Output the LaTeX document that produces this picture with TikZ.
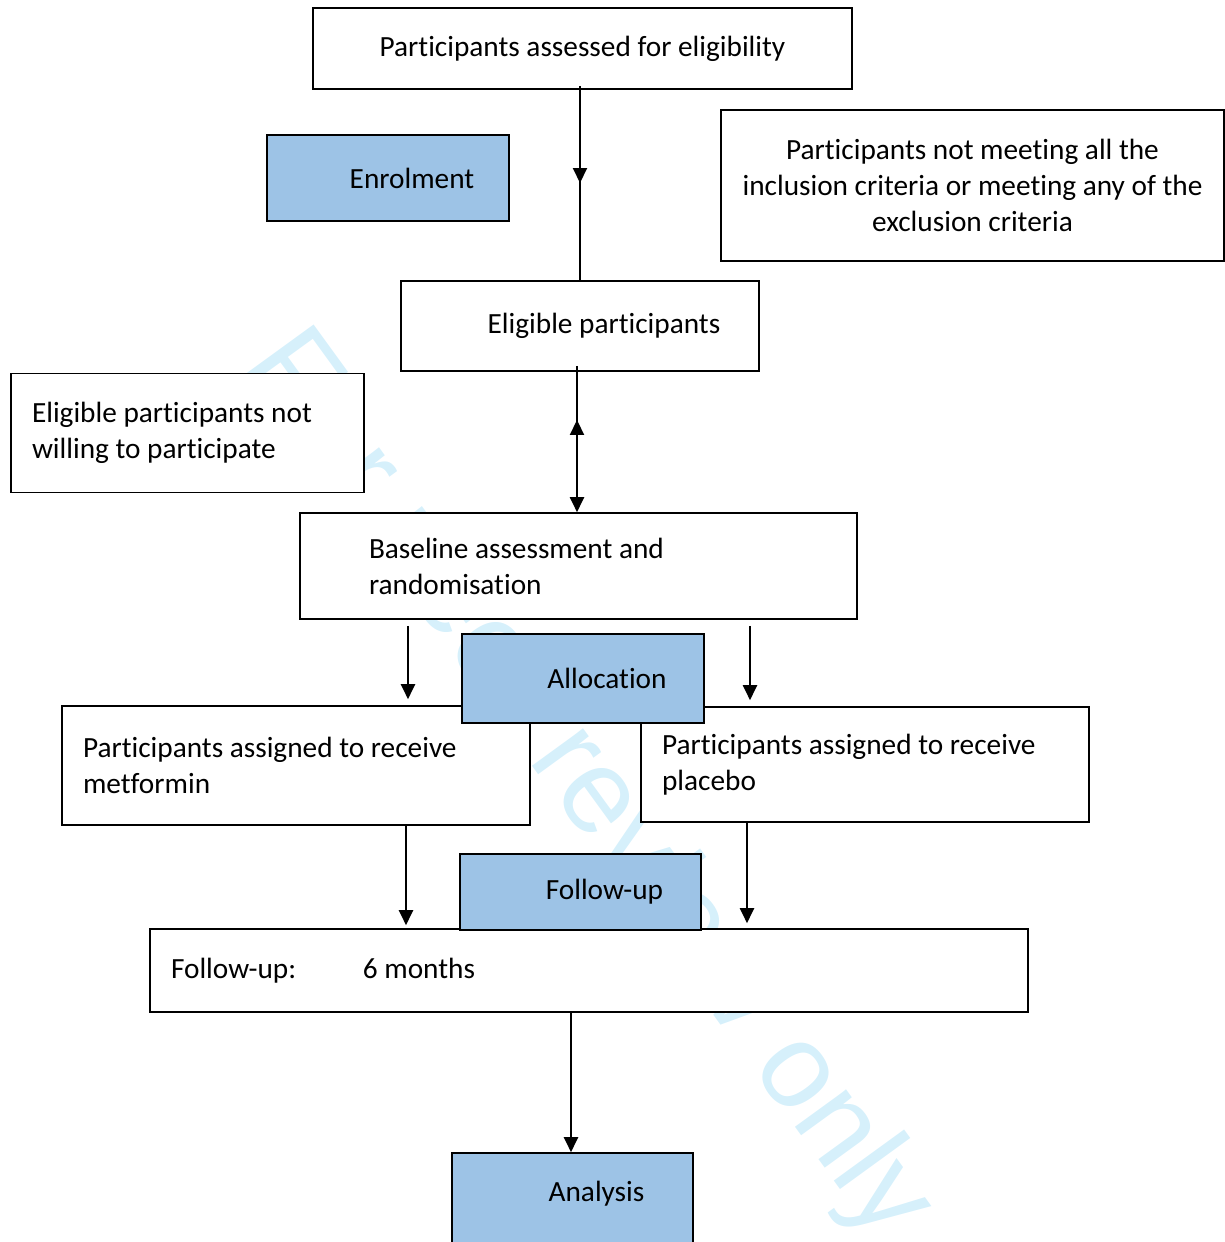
\documentclass[tikz,border=0pt]{standalone}
\usepackage{fontspec}
\setmainfont{Carlito}[Ligatures=NoCommon]
\newfontfamily\markfont{Liberation Sans}
\usepackage{xcolor}
\usetikzlibrary{arrows.meta,decorations.markings}

\definecolor{phaseblue}{RGB}{157,195,230}
\definecolor{wmcyan}{RGB}{214,240,251}

\begin{document}
\begin{tikzpicture}[x=1pt,y=-1pt,
    box/.style={draw=black,line width=1.6pt,fill=white,align=flush center,
                font=\fontsize{29.3}{36}\selectfont,inner sep=0pt},
    lbox/.style={box,align=flush left,inner xsep=21pt},
    indent/.style={execute at begin node={\hspace*{48pt}}},
    phase/.style={box,indent,fill=phaseblue},
    arrow/.style={-{Triangle[width=14pt,length=15pt]},line width=2pt},
    midarrow/.style={line width=2pt,postaction={decorate},
                decoration={markings,mark=at position #1 with {\arrow{Triangle[width=14pt,length=15pt]}}}},
    backarrow/.style={postaction={decorate},
                decoration={markings,mark=at position #1 with {\arrowreversed{Triangle[width=14pt,length=15pt]}}}}]
  \useasboundingbox (0,0) rectangle (1225,1242);
  % watermark
  \node[text=wmcyan,font=\markfont\fontsize{120}{120}\selectfont,rotate=-54,anchor=base] (wm) at (561,805) {For peer review only};
  % enrolment
  \node[box,minimum width=539pt,minimum height=81pt] (assess) at (582.5,48.5) {Participants assessed for eligibility};
  \node[phase,minimum width=242pt,minimum height=86pt] (enrol) at (388,178) {Enrolment};
  \node[box,minimum width=503pt,minimum height=151pt,text width=480pt] (excl) at (972.5,185.5)
       {Participants not meeting all the\\inclusion criteria or meeting any of the\\exclusion criteria};
  \node[box,indent,minimum width=358pt,minimum height=90pt] (elig) at (580,326) {Eligible participants};
  \node[lbox,text width=311pt,minimum height=119pt] (declined) at (187.5,433)
       {Eligible participants not\\willing to participate};
  \node[box,align=flush left,inner xsep=69pt,text width=419pt,minimum height=106pt] (base) at (578.5,566)
       {Baseline assessment and\\randomisation};
  % allocation
  \node[lbox,text width=426pt,minimum height=119pt] (metformin) at (296,765.5)
       {Participants assigned to receive\\metformin};
  \node[lbox,text width=406pt,minimum height=115pt] (placebo) at (865,764.5)
       {Participants assigned to receive\\placebo};
  \node[phase,minimum width=242pt,minimum height=89pt] (alloc) at (583,678.5) {Allocation};
  % follow-up
  \node[lbox,text width=836pt,minimum height=83pt] (follow) at (589,970.5)
       {\makebox[192pt][l]{Follow-up:}6 months};
  \node[phase,minimum width=241pt,minimum height=76pt] (fuphase) at (580.5,892) {Follow-up};
  % analysis
  \node[phase,minimum width=241pt,minimum height=109pt,text depth=33pt] (analysis) at (572.5,1207.5) {Analysis};
  % connectors
  \draw[midarrow=0.5] ([xshift=-2.5pt,yshift=4pt]assess.south) -- (elig.north);
  \draw[arrow,backarrow=0.37] ([xshift=-3pt,yshift=6pt]elig.south) -- ([xshift=-1.5pt]base.north);
  \draw[arrow,shorten <=6pt,shorten >=6pt] ([xshift=-170.5pt]base.south) -- ([xshift=-170.5pt]base.south |- metformin.north);
  \draw[arrow,shorten <=6pt,shorten >=6pt] ([xshift=171.5pt]base.south) -- ([xshift=171.5pt]base.south |- placebo.north);
  \draw[arrow,shorten >=3pt] ([xshift=110pt]metformin.south) -- ([xshift=110pt]metformin.south |- follow.north);
  \draw[arrow,shorten >=5pt] ([xshift=-118pt]placebo.south) -- ([xshift=-118pt]placebo.south |- follow.north);
  \draw[arrow] ([xshift=-18pt]follow.south) -- ([xshift=-18pt]follow.south |- analysis.north);
\end{tikzpicture}
\end{document}
